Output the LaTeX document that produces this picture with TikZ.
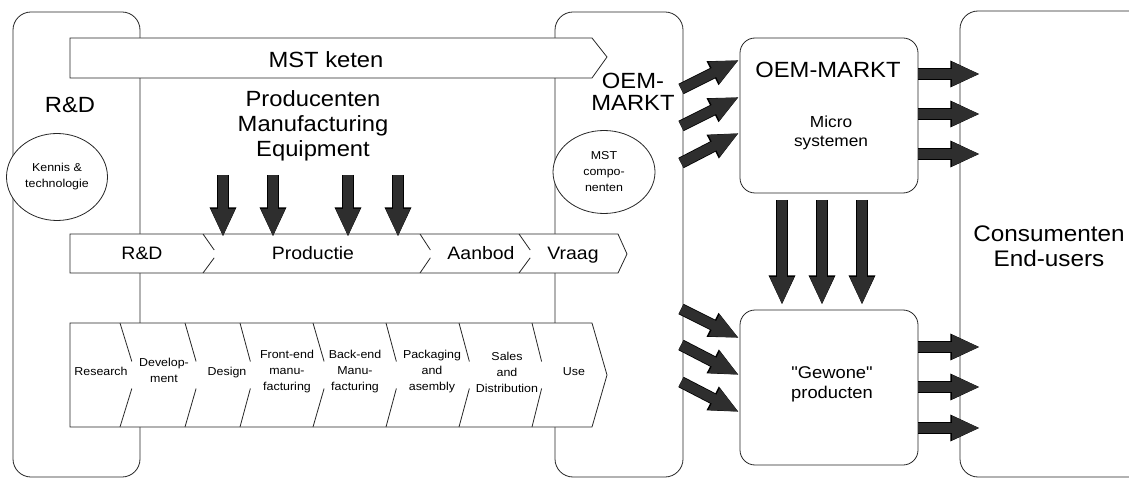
\documentclass[tikz,border=0pt]{standalone}
\usepackage{fontspec}
\setmainfont{Liberation Sans}[FakeStretch=1.08]
\newfontfamily\plainq{Liberation Sans}[FakeStretch=1.08, Ligatures=TeXOff]
\usetikzlibrary{arrows.meta,calc,shapes.geometric}
\newcommand\fs[2]{\fontsize{#1}{#2}\selectfont}
\newcommand\chev[6]{%
  \draw[sepln] (#1,#2) -- ($(#1,#2)!#6!({#1+#5},#3)$);
  \draw[sepln] (#1,#4) -- ($(#1,#4)!#6!({#1+#5},#3)$);}
\begin{document}
\begin{tikzpicture}[x=1pt,y=-1pt,
  ln/.style={draw=black!85, line width=0.8pt},
  panel/.style={ln, rectangle, rounded corners=18pt, inner sep=0pt},
  boxr/.style={ln, rectangle, rounded corners=15pt, fill=white, inner sep=0pt, minimum width=178pt, minimum height=155pt},
  chainshape/.style={ln, fill=white, line join=miter},
  sepln/.style={draw=black!85, line width=0.8pt},
  txtbig/.style={font=\fs{22}{25}, align=center, inner sep=0pt},
  txtmid/.style={font=\fs{18}{21}, inner sep=0pt},
  txtmed/.style={font=\fs{16}{19}, align=center, inner sep=0pt},
  txtsmall/.style={font=\fs{11.5}{16}, align=center, inner sep=0pt},
  oval/.style={ln, ellipse, fill=white, inner sep=0pt, font=\fs{11.5}{16}, align=center},
  fat/.style={line width=10pt, draw=black!82, -{Triangle[length=28pt,width=22pt]},
    preaction={draw=black, line width=11.6pt, -{Triangle[length=29.6pt,width=24.4pt]}}}
]
\useasboundingbox (0,0) rectangle (1129,478);
\clip (0,0) rectangle (1129,478);

% panels
\node[panel, minimum width=127pt, minimum height=465pt] (rdp) at (76.5,244.5) {};
\node[panel, minimum width=128pt, minimum height=465pt] (oemp) at (619,244.5) {};
\node[panel, minimum width=210pt, minimum height=466pt] (consp) at (1065,244) {};

% MST keten arrow
\path[chainshape] (70,38) -- (592,38) -- (607,57) -- (592,78) -- (70,78) -- cycle;
\node[txtbig, anchor=base] (mst) at (326,68) {MST keten};

% labels in panels
\node[txtbig, anchor=base] (rdlab) at (70,113) {R\&D};
\node[txtbig] (prod) at (313,126) {Producenten\\Manufacturing\\Equipment};
\node[font=\fs{22}{22}, align=center, inner sep=0pt] (oemlab) at (633,92) {OEM-\\MARKT};
\node[font=\fs{22.5}{25}, align=center, inner sep=0pt] (cons) at (1049,246) {Consumenten\\End-users};

% ellipses
\node[oval, minimum width=101pt, minimum height=87pt] (kennis) at (57,177) {Kennis \&\\technologie};
\node[oval, minimum width=102pt, minimum height=83pt] (mstc) at (604,172) {MST\\compo-\\nenten};

% phase chain
\path[chainshape] (70,234) -- (618,234) -- (627,254) -- (618,273) -- (70,273) -- cycle;
\chev{203}{234}{254}{273}{14}{0.8}
\chev{420}{234}{254}{273}{13}{0.8}
\chev{519}{234}{254}{273}{14}{0.8}
\node[txtmid, anchor=base] (ph1) at (142,260) {R\&D};
\node[txtmid, anchor=base] (ph2) at (313,260) {Productie};
\node[txtmid, anchor=base] (ph3) at (481,260) {Aanbod};
\node[txtmid, anchor=base] (ph4) at (573,260) {Vraag};

% value chain
\path[chainshape] (70,323) -- (592,323) -- (607,375) -- (592,427) -- (70,427) -- cycle;
\chev{120}{323}{375}{427}{16}{0.74}
\chev{185}{323}{375}{427}{15}{0.74}
\chev{240}{323}{375}{427}{14}{0.74}
\chev{313}{323}{375}{427}{15}{0.74}
\chev{386}{323}{375}{427}{14}{0.74}
\chev{459}{323}{375}{427}{14}{0.74}
\chev{532}{323}{375}{427}{13}{0.74}
\node[txtsmall, anchor=base] (v1) at (101,375) {Research};
\node[txtsmall] (v2) at (164,370) {Develop-\\ment};
\node[txtsmall, anchor=base] (v3) at (227,375) {Design};
\node[txtsmall] (v4) at (287,372) {Front-end\\manu-\\facturing};
\node[txtsmall] (v5) at (355,372) {Back-end\\Manu-\\facturing};
\node[txtsmall] (v6) at (432,372) {Packaging\\and\\asembly};
\node[txtsmall] (v7) at (507,372) {Sales\\and\\Distribution};
\node[txtsmall, anchor=base] (v8) at (574,375) {Use};

% right boxes
\node[boxr] (oem) at (829,115.5) {};
\node[txtbig, anchor=base] (oemt) at (828,78) {OEM-MARKT};
\node[txtmed] (micro) at (831,133) {Micro\\systemen};
\node[boxr] (gew) at (829,387.5) {};
\node[font=\plainq\fs{17}{20}, align=center, inner sep=0pt] (gewt) at (832,384) {"Gewone"\\producten};

% coordinates for fat arrows
\coordinate (d1s) at (223,175); \coordinate (d1e) at (223,237);
\coordinate (d2s) at (273,175); \coordinate (d2e) at (273,237);
\coordinate (d3s) at (348,175); \coordinate (d3e) at (348,237);
\coordinate (d4s) at (398,175); \coordinate (d4e) at (398,237);

\coordinate (u1s) at (681,89);  \coordinate (u1e) at (739,60);
\coordinate (u2s) at (681,126); \coordinate (u2e) at (739,97);
\coordinate (u3s) at (681,163); \coordinate (u3e) at (739,133);

\coordinate (l1s) at (681,309); \coordinate (l1e) at (739,338);
\coordinate (l2s) at (681,345); \coordinate (l2e) at (739,375);
\coordinate (l3s) at (681,382); \coordinate (l3e) at (739,412);

\coordinate (m1s) at (782,200); \coordinate (m1e) at (782,305);
\coordinate (m2s) at (822,200); \coordinate (m2e) at (822,305);
\coordinate (m3s) at (862,200); \coordinate (m3e) at (862,305);

\coordinate (r1e) at (980,74);  \coordinate (r2e) at (980,114); \coordinate (r3e) at (980,154);
\coordinate (r4e) at (980,347); \coordinate (r5e) at (980,387); \coordinate (r6e) at (980,428);

% fat arrows
\draw[fat] (d1s) -- (d1e);
\draw[fat] (d2s) -- (d2e);
\draw[fat] (d3s) -- (d3e);
\draw[fat] (d4s) -- (d4e);
\draw[fat] (u1s) -- (u1e);
\draw[fat] (u2s) -- (u2e);
\draw[fat] (u3s) -- (u3e);
\draw[fat] (l1s) -- (l1e);
\draw[fat] (l2s) -- (l2e);
\draw[fat] (l3s) -- (l3e);
\draw[fat] (m1s) -- (m1e);
\draw[fat] (m2s) -- (m2e);
\draw[fat] (m3s) -- (m3e);
\draw[fat] (oem.east |- r1e) -- (r1e);
\draw[fat] (oem.east |- r2e) -- (r2e);
\draw[fat] (oem.east |- r3e) -- (r3e);
\draw[fat] (gew.east |- r4e) -- (r4e);
\draw[fat] (gew.east |- r5e) -- (r5e);
\draw[fat] (gew.east |- r6e) -- (r6e);
\end{tikzpicture}
\end{document}
